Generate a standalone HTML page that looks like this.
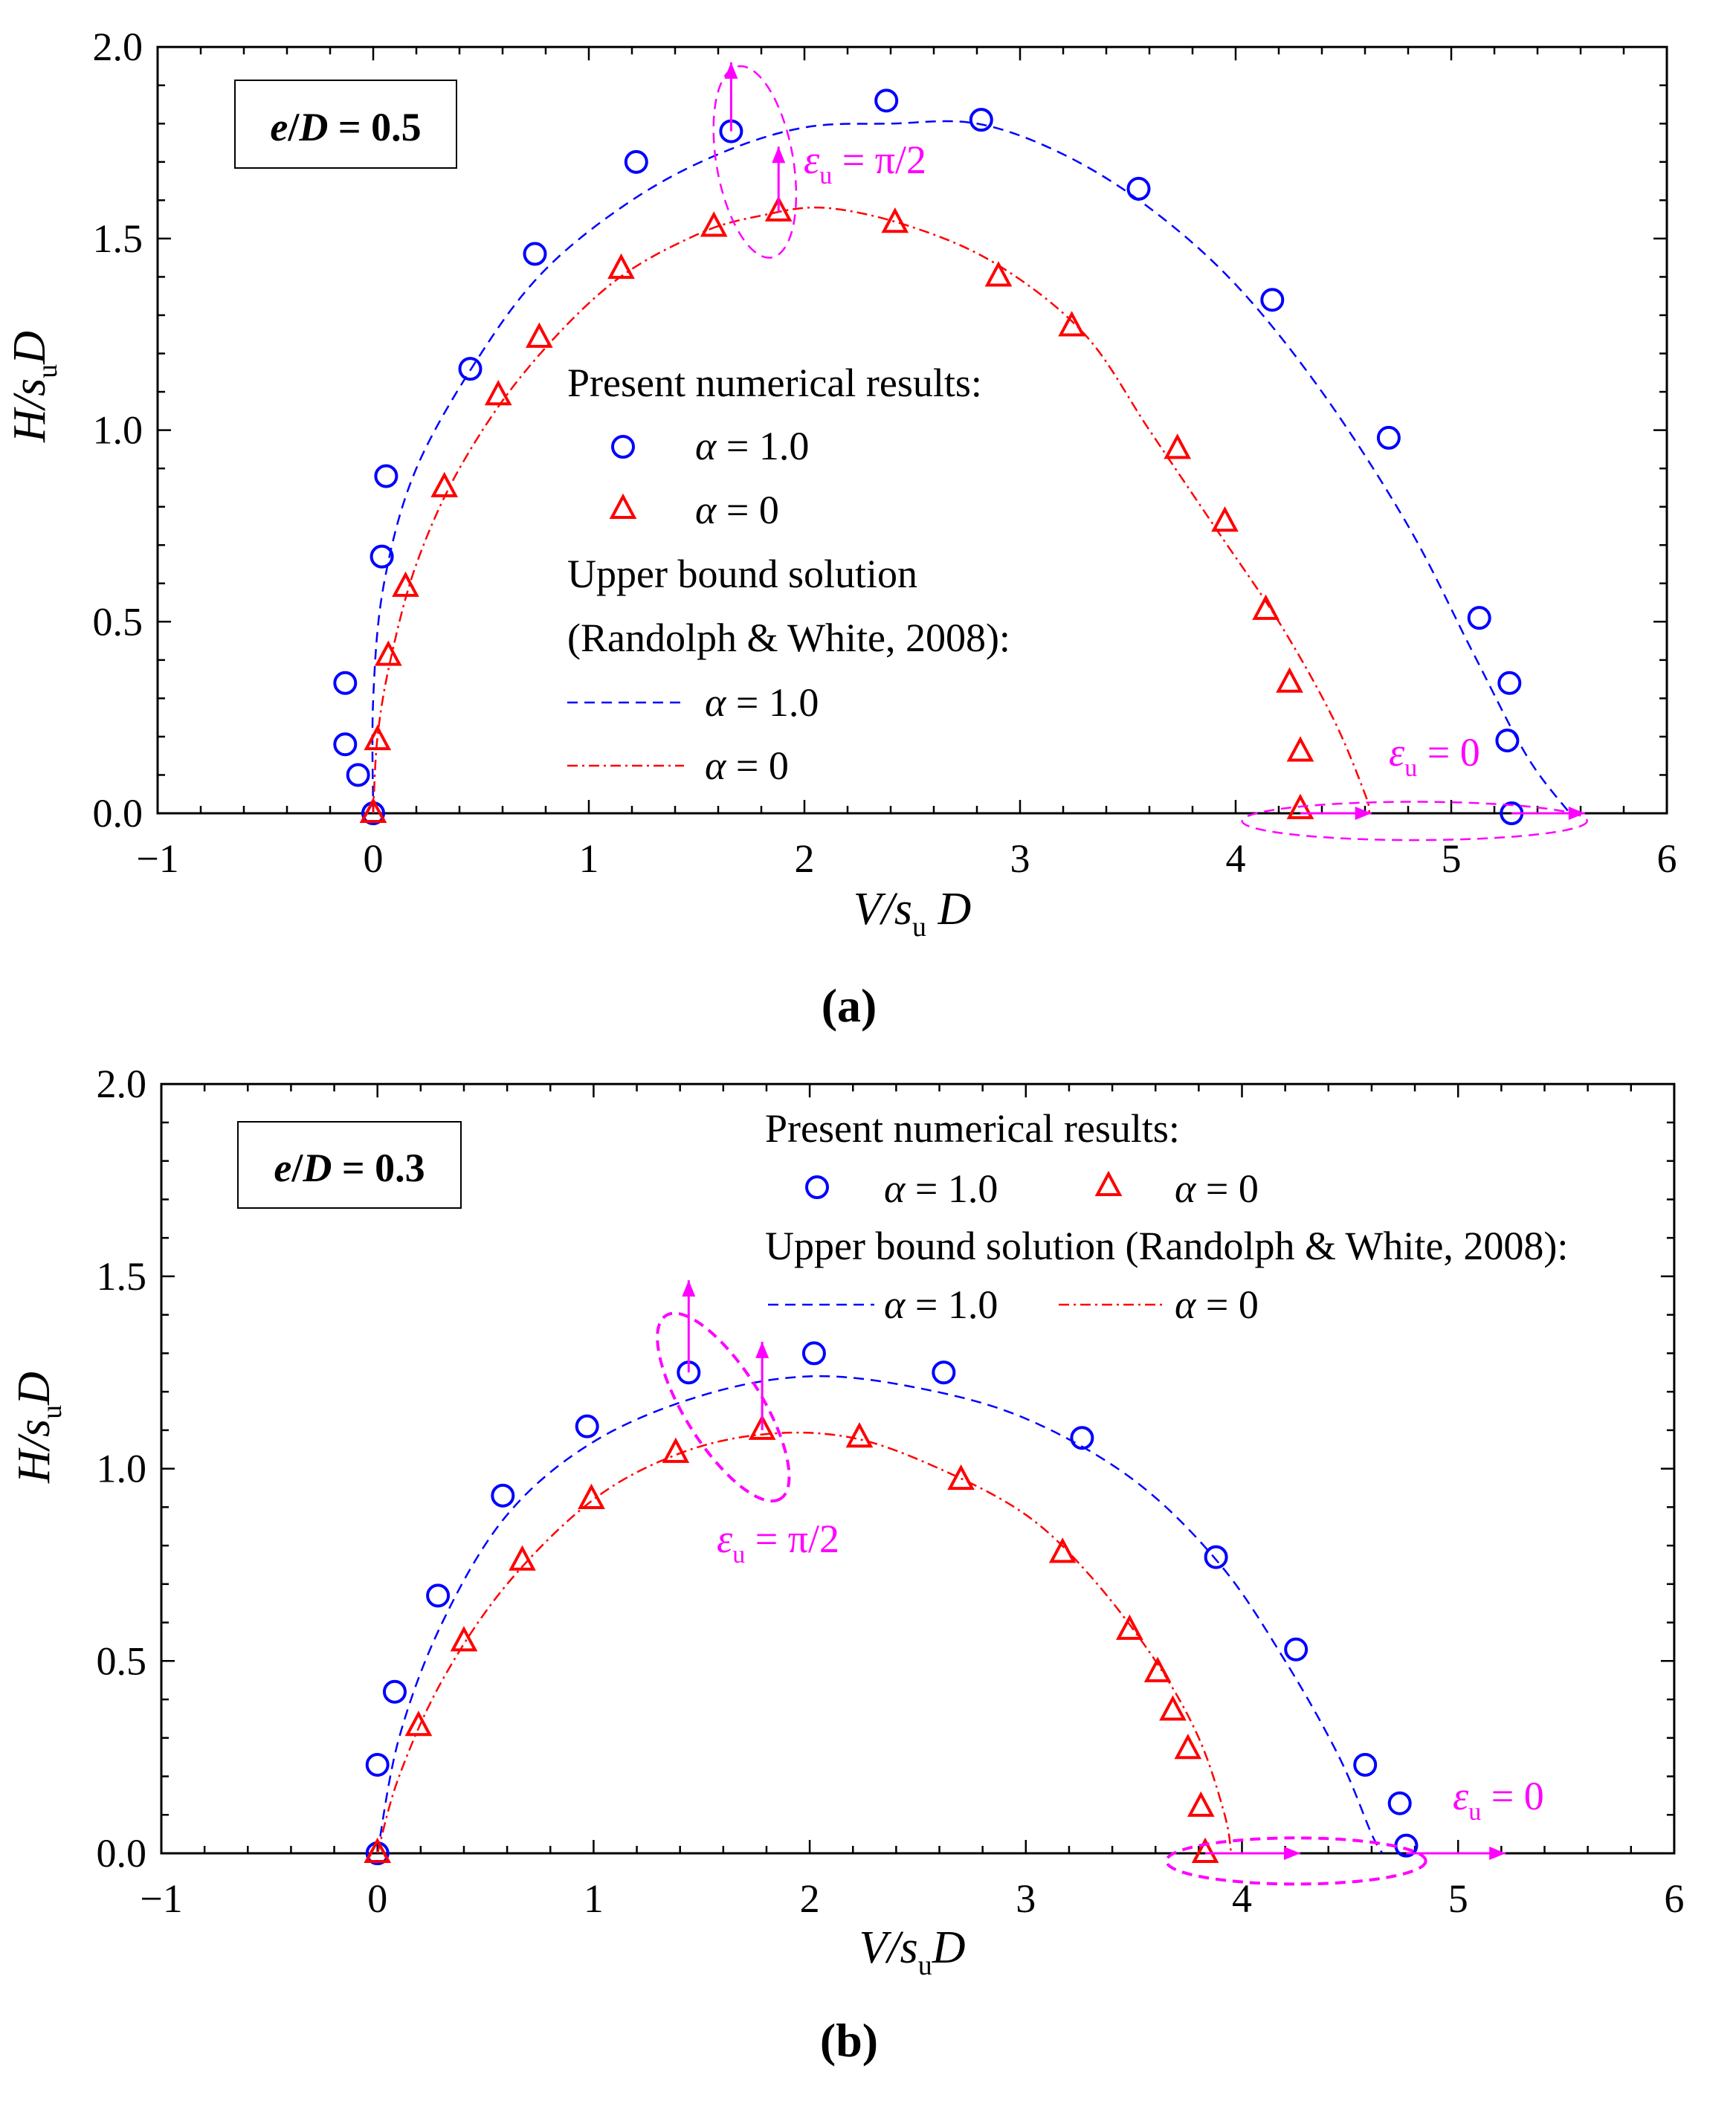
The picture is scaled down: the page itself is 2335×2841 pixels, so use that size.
<!DOCTYPE html>
<html><head><meta charset="utf-8"><style>
html,body{margin:0;padding:0;background:#fff}
svg{display:block}
text{font-family:"Liberation Serif",serif}
</style></head><body>
<svg id="s" width="2335" height="2841" viewBox="0 0 2335 2841" xmlns="http://www.w3.org/2000/svg"></svg>
<script>
const S=document.getElementById('s');let h='';
function panel(P){
 const X=v=>P.x0+(v+1)*P.ux, Y=v=>P.y0-v*P.uy*2;
 h+=`<rect x="${X(-1)}" y="${Y(2)}" width="${7*P.ux}" height="${4*P.uy}" fill="none" stroke="#000" stroke-width="3"/>`;
 for(let k=0;k<=35;k++){const i=-1+k*0.2;const x=X(i);const maj=k%5==0;const l=maj?18:10;
  h+=`<line x1="${x}" y1="${Y(0)}" x2="${x}" y2="${Y(0)-l}" stroke="#000" stroke-width="2.5"/><line x1="${x}" y1="${Y(2)}" x2="${x}" y2="${Y(2)+l}" stroke="#000" stroke-width="2.5"/>`;
  if(maj){const n=Math.round(i);h+=`<text x="${x}" y="${P.xt}" font-size="54" text-anchor="middle">${n<0?'−1':n}</text>`;}}
 for(let k=0;k<=20;k++){const v=k*0.1;const y=Y(v);const maj=k%5==0;const l=maj?18:10;
  h+=`<line x1="${X(-1)}" y1="${y}" x2="${X(-1)+l}" y2="${y}" stroke="#000" stroke-width="2.5"/><line x1="${X(6)}" y1="${y}" x2="${X(6)-l}" y2="${y}" stroke="#000" stroke-width="2.5"/>`;
  if(maj)h+=`<text x="${X(-1)-20}" y="${y+18}" font-size="54" text-anchor="end">${v.toFixed(1)}</text>`;}
 const path=(pts,c,d)=>{const q=pts.map(p=>[X(p[0]),Y(p[1])]);let s=`M${q[0]}`;
  for(let i=0;i<q.length-1;i++){const p0=q[i-1]||q[i],p1=q[i],p2=q[i+1],p3=q[i+2]||p2;
   const c1=[p1[0]+(p2[0]-p0[0])/6,p1[1]+(p2[1]-p0[1])/6],c2=[p2[0]-(p3[0]-p1[0])/6,p2[1]-(p3[1]-p1[1])/6];
   s+=` C${c1} ${c2} ${p2}`;}
  h+=`<path fill="none" stroke="${c}" stroke-width="2.5" stroke-dasharray="${d}" d="${s}"/>`};
 path(P.bc,'#00f','14,9');path(P.rc,'#f00','14,6,3,6');
 P.bp.forEach(p=>h+=`<circle cx="${X(p[0])}" cy="${Y(p[1])}" r="14" fill="none" stroke="#00f" stroke-width="4"/>`);
 P.rp.forEach(p=>{const x=X(p[0]),y=Y(p[1]);h+=`<polygon points="${x},${y-17} ${x-15},${y+11} ${x+15},${y+11}" fill="none" stroke="#f00" stroke-width="4"/>`});
 const arr=(a,b,c,d)=>{const x1=X(a),y1=Y(b),x2=X(c),y2=Y(d);const ang=Math.atan2(y2-y1,x2-x1);
  h+=`<line x1="${x1}" y1="${y1}" x2="${x2}" y2="${y2}" stroke="#f0f" stroke-width="3"/>`;
  const L=22,W=9;const p1=[x2-L*Math.cos(ang)+W*Math.sin(ang),y2-L*Math.sin(ang)-W*Math.cos(ang)],p2=[x2-L*Math.cos(ang)-W*Math.sin(ang),y2-L*Math.sin(ang)+W*Math.cos(ang)];
  h+=`<polygon points="${x2},${y2} ${p1} ${p2}" fill="#f0f"/>`;};
 P.arr.forEach(a=>arr(...a));
 P.ell.forEach(e=>h+=`<ellipse cx="${X(e[0])}" cy="${Y(e[1])}" rx="${e[2]*P.ux}" ry="${e[3]*P.uy*2}" transform="rotate(${e[4]} ${X(e[0])} ${Y(e[1])})" fill="none" stroke="#f0f" stroke-width="${e[5]}" stroke-dasharray="14,9"/>`);
}
panel({x0:212,ux:290,y0:1094,uy:257.7,xt:1173,
 bp:[[0,0],[-0.07,0.1],[-0.13,0.18],[-0.13,0.34],[0.04,0.67],[0.06,0.88],[0.45,1.16],[0.75,1.46],[1.22,1.7],[1.66,1.78],[2.38,1.86],[2.82,1.81],[3.55,1.63],[4.17,1.34],[4.71,0.98],[5.13,0.51],[5.27,0.34],[5.26,0.19],[5.28,0]],
 rp:[[0,0],[0.02,0.19],[0.07,0.41],[0.15,0.59],[0.33,0.85],[0.58,1.09],[0.77,1.24],[1.15,1.42],[1.58,1.53],[1.88,1.57],[2.42,1.54],[2.9,1.4],[3.24,1.27],[3.73,0.95],[3.95,0.76],[4.14,0.53],[4.25,0.34],[4.3,0.16],[4.3,0.01]],
 bc:[[0,0],[0,0.3],[0.05,0.6],[0.2,0.9],[0.5,1.2],[0.8,1.42],[1.2,1.6],[1.6,1.72],[2.0,1.79],[2.4,1.8],[2.8,1.8],[3.2,1.72],[3.6,1.58],[4.0,1.38],[4.4,1.1],[4.8,0.75],[5.1,0.42],[5.35,0.15],[5.55,0]],
 rc:[[0,0],[0.02,0.2],[0.08,0.4],[0.2,0.65],[0.4,0.9],[0.7,1.15],[1.1,1.38],[1.5,1.51],[1.8,1.56],[2.1,1.58],[2.5,1.53],[2.9,1.43],[3.3,1.25],[3.6,1.0],[3.9,0.75],[4.2,0.5],[4.45,0.25],[4.6,0.05],[4.62,0]],
 arr:[[1.66,1.78,1.66,1.96],[1.88,1.57,1.88,1.74],[4.3,0.0,4.63,0.0],[5.28,0.0,5.62,0.0]],
 ell:[[1.77,1.7,0.45,0.1,80,2.5],[4.83,-0.02,0.8,0.05,0,2.5]]});
panel({x0:217,ux:290.7,y0:2493,uy:258.7,xt:2572,
 bp:[[0,0],[0,0.23],[0.08,0.42],[0.28,0.67],[0.58,0.93],[0.97,1.11],[1.44,1.25],[2.02,1.3],[2.62,1.25],[3.26,1.08],[3.88,0.77],[4.25,0.53],[4.57,0.23],[4.73,0.13],[4.76,0.02]],
 rp:[[0,0],[0.19,0.33],[0.4,0.55],[0.67,0.76],[0.99,0.92],[1.38,1.04],[1.78,1.1],[2.23,1.08],[2.7,0.97],[3.17,0.78],[3.48,0.58],[3.61,0.47],[3.68,0.37],[3.75,0.27],[3.81,0.12],[3.83,0.0]],
 bc:[[0,0],[0.1,0.3],[0.3,0.6],[0.6,0.88],[1.0,1.07],[1.5,1.19],[2.0,1.24],[2.5,1.21],[3.0,1.13],[3.5,0.97],[3.9,0.75],[4.2,0.5],[4.45,0.25],[4.6,0.05],[4.65,0]],
 rc:[[0,0],[0.1,0.2],[0.3,0.45],[0.6,0.7],[1.0,0.92],[1.4,1.04],[1.8,1.09],[2.2,1.08],[2.6,1.0],[3.0,0.88],[3.3,0.72],[3.6,0.5],[3.8,0.3],[3.92,0.1],[3.95,0]],
 arr:[[1.44,1.25,1.44,1.49],[1.78,1.1,1.78,1.33],[3.83,0.0,4.27,0.0],[4.76,0.0,5.22,0.0]],
 ell:[[1.6,1.16,0.5,0.1,58,4],[4.25,-0.02,0.6,0.06,0,4]]});
h+=`<rect x="316" y="108" width="298" height="118" fill="none" stroke="#000" stroke-width="2"/>
<text x="465" y="189" font-size="54" text-anchor="middle" font-weight="bold"><tspan font-style="italic">e</tspan>/<tspan font-style="italic">D</tspan> = 0.5</text>
<rect x="320" y="1509" width="300" height="116" fill="none" stroke="#000" stroke-width="2"/>
<text x="470" y="1589" font-size="54" text-anchor="middle" font-weight="bold"><tspan font-style="italic">e</tspan>/<tspan font-style="italic">D</tspan> = 0.3</text>
<g font-size="54">
<text x="763" y="533">Present numerical results:</text>
<circle cx="838" cy="601" r="14" fill="none" stroke="#00f" stroke-width="4"/>
<text x="935" y="618"><tspan font-style="italic">α</tspan> = 1.0</text>
<polygon points="838,668 823,696 853,696" fill="none" stroke="#f00" stroke-width="4"/>
<text x="935" y="704"><tspan font-style="italic">α</tspan> = 0</text>
<text x="763" y="790">Upper bound solution</text>
<text x="763" y="876">(Randolph &amp; White, 2008):</text>
<line x1="763" y1="945" x2="920" y2="945" stroke="#00f" stroke-width="2.5" stroke-dasharray="14,9"/>
<text x="948" y="963"><tspan font-style="italic">α</tspan> = 1.0</text>
<line x1="763" y1="1030" x2="920" y2="1030" stroke="#f00" stroke-width="2.5" stroke-dasharray="14,6,3,6"/>
<text x="948" y="1048"><tspan font-style="italic">α</tspan> = 0</text>
<text x="1029" y="1536">Present numerical results:</text>
<circle cx="1099" cy="1597" r="14" fill="none" stroke="#00f" stroke-width="4"/>
<text x="1189" y="1617"><tspan font-style="italic">α</tspan> = 1.0</text>
<polygon points="1491,1579 1476,1607 1506,1607" fill="none" stroke="#f00" stroke-width="4"/>
<text x="1580" y="1617"><tspan font-style="italic">α</tspan> = 0</text>
<text x="1029" y="1694">Upper bound solution  (Randolph &amp; White, 2008):</text>
<line x1="1033" y1="1755" x2="1176" y2="1755" stroke="#00f" stroke-width="2.5" stroke-dasharray="14,9"/>
<text x="1189" y="1773"><tspan font-style="italic">α</tspan> = 1.0</text>
<line x1="1424" y1="1755" x2="1566" y2="1755" stroke="#f00" stroke-width="2.5" stroke-dasharray="14,6,3,6"/>
<text x="1580" y="1773"><tspan font-style="italic">α</tspan> = 0</text>
</g>
<g font-size="54" fill="#f0f">
<text x="1081" y="233"><tspan font-style="italic">ε</tspan><tspan font-size="34" dy="14">u</tspan><tspan dy="-14"> = π/2</tspan></text>
<text x="1868" y="1030"><tspan font-style="italic">ε</tspan><tspan font-size="34" dy="14">u</tspan><tspan dy="-14"> = 0</tspan></text>
<text x="964" y="2088"><tspan font-style="italic">ε</tspan><tspan font-size="34" dy="14">u</tspan><tspan dy="-14"> = π/2</tspan></text>
<text x="1954" y="2434"><tspan font-style="italic">ε</tspan><tspan font-size="34" dy="14">u</tspan><tspan dy="-14"> = 0</tspan></text>
</g>
<g font-size="62" font-style="italic">
<text x="1227" y="1243" text-anchor="middle">V/s<tspan font-size="38" font-style="normal" dy="16">u</tspan><tspan dy="-16"> D</tspan></text>
<text x="1227" y="2640" text-anchor="middle">V/s<tspan font-size="38" font-style="normal" dy="16">u</tspan><tspan dy="-16">D</tspan></text>
<text transform="translate(60,520) rotate(-90)" text-anchor="middle">H/s<tspan font-size="38" font-style="normal" dy="16">u</tspan><tspan dy="-16">D</tspan></text>
<text transform="translate(66,1920) rotate(-90)" text-anchor="middle">H/s<tspan font-size="38" font-style="normal" dy="16">u</tspan><tspan dy="-16">D</tspan></text>
</g>
<text x="1142" y="1374" font-size="64" font-weight="bold" text-anchor="middle">(a)</text>
<text x="1142" y="2766" font-size="64" font-weight="bold" text-anchor="middle">(b)</text>`;
S.innerHTML=h;
</script>
</body></html>
